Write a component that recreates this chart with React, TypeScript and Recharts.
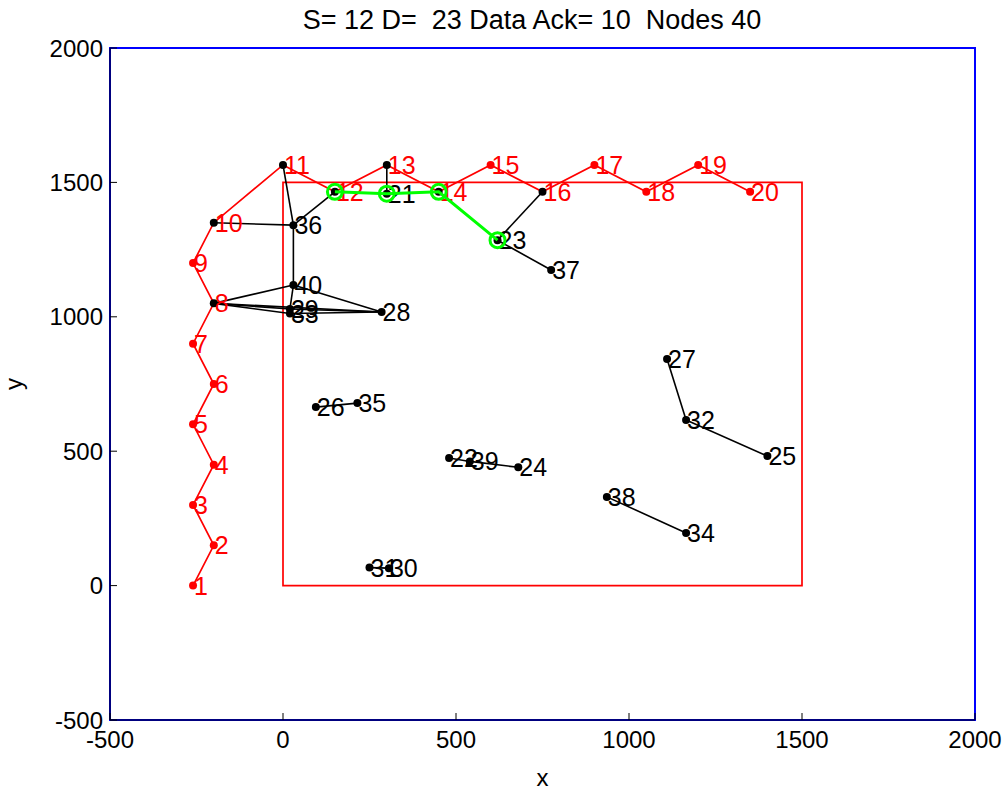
import { ScatterChart, Scatter, XAxis, YAxis, ReferenceArea } from 'recharts';

const nodeX = [
  -260, -200, -260, -200, -260, -200, -260, -200, -260, -200,
  0, 150, 300, 450, 600, 750, 900, 1050, 1200, 1350,
  300, 480, 620, 680, 1400, 95, 1110, 285, 20, 306,
  250, 1165, 20, 1165, 215, 30, 775, 936, 540, 30,
];
const nodeY = [
  0, 150, 300, 450, 600, 750, 900, 1050, 1200, 1350,
  1565, 1465, 1565, 1465, 1565, 1465, 1565, 1465, 1565, 1465,
  1458, 475, 1285, 440, 482, 664, 843, 1018, 1029, 65,
  67, 616, 1012, 196, 679, 1341, 1174, 330, 462, 1118,
];
const chainIds = [1, 2, 3, 4, 5, 6, 7, 8, 9, 10, 11, 12, 13, 14, 15, 16, 17, 18, 19, 20];
const blackEdges: [number, number][] = [
  [11, 36], [12, 36], [10, 36], [36, 40], [8, 40], [8, 29], [8, 33], [8, 28],
  [40, 28], [29, 28], [33, 28], [40, 29], [13, 21], [16, 23], [23, 37],
  [26, 35], [31, 30], [22, 39], [39, 24], [27, 32], [32, 25], [38, 34],
];
const routeIds = [12, 21, 14, 23];
const axisTicks = [-500, 0, 500, 1000, 1500, 2000];
const titleText = 'S= 12 D=  23 Data Ack= 10  Nodes 40';

const FONT = '"Liberation Sans", Arial, sans-serif';

const pt = (id: number) => ({ id, x: nodeX[id - 1], y: nodeY[id - 1] });

const blackDotIds = new Set<number>();
blackEdges.forEach(([a, b]) => { blackDotIds.add(a); blackDotIds.add(b); });
routeIds.forEach((id) => blackDotIds.add(id));

const allNodes = nodeX.map((_, i) => pt(i + 1));

const NoShape = () => <g />;

const NodeShape = (props: any) => {
  const { cx, cy, payload } = props;
  const id = payload.id;
  const dot = id > 20 || blackDotIds.has(id) ? '#000' : '#ff0000';
  const txt = id > 20 ? '#000' : '#ff0000';
  return (
    <g>
      <circle cx={cx} cy={cy} r={4} fill={dot} />
      <text x={cx + 1} y={cy + 9} fontSize={25} fontFamily={FONT} fill={txt}>{id}</text>
    </g>
  );
};

const RouteShape = (props: any) => {
  const { cx, cy } = props;
  return <circle cx={cx} cy={cy} r={7.5} fill="none" stroke="#00ff00" strokeWidth={3} />;
};

const XTick = (props: any) => {
  const { x, y, payload } = props;
  const axisY = y - 8;
  return (
    <g>
      <line x1={x} x2={x} y1={axisY} y2={axisY - 7} stroke="#000" />
      <text x={x} y={y + 20} textAnchor="middle" fontSize={24} fontFamily={FONT} fill="#000">{payload.value}</text>
    </g>
  );
};

const YTick = (props: any) => {
  const { x, y, payload } = props;
  const axisX = x + 7;
  return (
    <g>
      <line x1={axisX} x2={axisX + 7} y1={y} y2={y} stroke="#000" />
      <text x={x} y={y + 8.5} textAnchor="end" fontSize={24} fontFamily={FONT} fill="#000">{payload.value}</text>
    </g>
  );
};

export default function App() {
  return (
    <div style={{ position: 'absolute', left: 0, top: 0, width: 1008, height: 790, background: '#fff' }}>
      <div
        style={{
          position: 'absolute', left: 0, top: 5, width: 1064, textAlign: 'center',
          fontFamily: FONT, fontSize: 27, lineHeight: '30px', whiteSpace: 'pre', color: '#000',
        }}
      >
        {titleText}
      </div>
      <ScatterChart width={1008} height={790} margin={{ top: 48, right: 33, bottom: 0, left: 0 }}>
        <XAxis
          type="number"
          dataKey="x"
          domain={[-500, 2000]}
          ticks={axisTicks}
          allowDataOverflow
          height={70}
          tickSize={0}
          tickMargin={8}
          tickLine={false}
          tick={XTick}
          stroke="#000"
          label={{
            value: 'x',
            content: (p: any) => (
              <text x={p.viewBox.x + p.viewBox.width / 2} y={p.viewBox.y + 66} textAnchor="middle" fontSize={24} fontFamily={FONT} fill="#000">x</text>
            ),
          }}
        />
        <YAxis
          type="number"
          dataKey="y"
          domain={[-500, 2000]}
          ticks={axisTicks}
          allowDataOverflow
          width={110}
          tickSize={0}
          tickMargin={7}
          tickLine={false}
          tick={YTick}
          stroke="#000"
          label={{
            value: 'y',
            content: (p: any) => {
              const cy = p.viewBox.y + p.viewBox.height / 2;
              return (
                <text x={22} y={cy} transform={`rotate(-90 22 ${cy})`} textAnchor="middle" fontSize={24} fontFamily={FONT} fill="#000">y</text>
              );
            },
          }}
        />
        <ReferenceArea x1={-500} x2={2000} y1={-500} y2={2000} fill="none" stroke="#0000ff" strokeWidth={2} ifOverflow="visible" />
        <ReferenceArea x1={0} x2={1500} y1={0} y2={1500} fill="none" stroke="#ff0000" strokeWidth={1.7} ifOverflow="visible" />
        <Scatter data={chainIds.map(pt)} line={{ stroke: '#ff0000', strokeWidth: 1.7 }} shape={NoShape} isAnimationActive={false} />
        {blackEdges.map(([a, b], i) => (
          <Scatter key={i} data={[pt(a), pt(b)]} line={{ stroke: '#000', strokeWidth: 1.6 }} shape={NoShape} isAnimationActive={false} />
        ))}
        <Scatter data={allNodes} shape={NodeShape} isAnimationActive={false} />
        <Scatter data={routeIds.map(pt)} line={{ stroke: '#00ff00', strokeWidth: 3 }} shape={RouteShape} isAnimationActive={false} />
      </ScatterChart>
    </div>
  );
}
